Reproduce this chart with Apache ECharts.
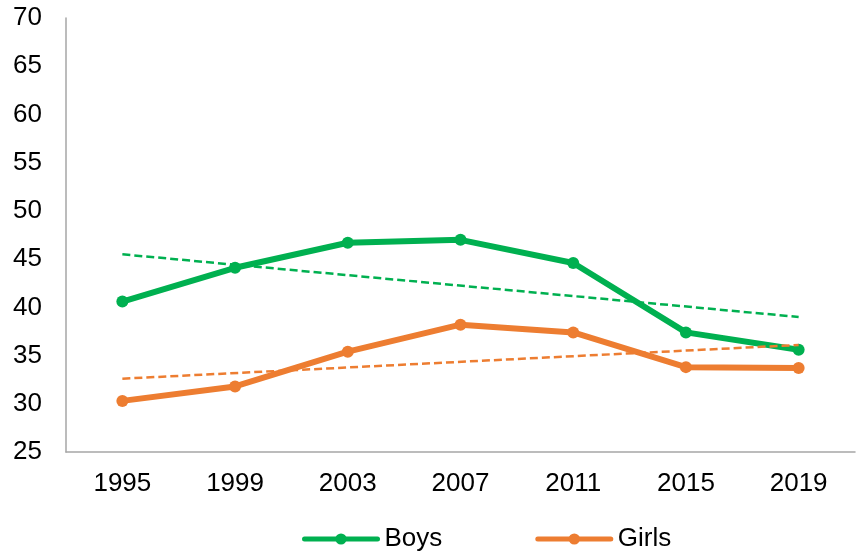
<!DOCTYPE html>
<html>
<head>
<meta charset="utf-8">
<script src="https://cdn.jsdelivr.net/npm/echarts@6/dist/echarts.min.js"></script>
<style>
  html, body { margin: 0; padding: 0; background: #fff; }
  #chart { width: 856px; height: 554px; }
</style>
</head>
<body>
<div id="chart"></div>
<script>
// Survey years on the x axis
const years = ['1995', '1999', '2003', '2007', '2011', '2015', '2019'];

// Percentages per year
const boys = [40.6, 44.1, 46.7, 47.0, 44.6, 37.4, 35.6];
const girls = [30.3, 31.8, 35.4, 38.2, 37.4, 33.8, 33.7];

// Linear trend lines: start (1995) and end (2019) values
const boysTrend = [45.5, 39.0];
const girlsTrend = [32.6, 36.1];

// Value axis range
const yMin = 25, yMax = 70, yStep = 5;

const GREEN = '#00B050';
const ORANGE = '#ED7D31';
const FONT = '"Liberation Sans", Arial, sans-serif';

function trendData(ends) {
  return [[years[0], ends[0]], [years[years.length - 1], ends[1]]];
}

const chart = echarts.init(document.getElementById('chart'), null, { renderer: 'canvas' });

chart.setOption({
  animation: false,
  backgroundColor: '#ffffff',
  grid: { left: 66, right: 1, top: 18, bottom: 102, containLabel: false },
  legend: {
    data: ['Boys', 'Girls'],
    top: 526,
    left: 302,
    padding: 0,
    itemWidth: 73,
    itemHeight: 14,
    itemGap: 93,
    lineStyle: { width: 5, cap: 'round' },
    textStyle: { fontFamily: FONT, fontSize: 26, color: '#000', padding: [0, 0, 0, 2] }
  },
  xAxis: {
    type: 'category',
    data: years,
    boundaryGap: true,
    axisLine: { lineStyle: { color: '#A6A6A6', width: 1.5 } },
    axisTick: { show: false },
    axisLabel: { fontFamily: FONT, fontSize: 26, color: '#000', margin: 19 },
    splitLine: { show: false }
  },
  yAxis: {
    type: 'value',
    min: yMin,
    max: yMax,
    interval: yStep,
    axisLine: { show: true, lineStyle: { color: '#A6A6A6', width: 1.5 } },
    axisTick: { show: false },
    axisLabel: { fontFamily: FONT, fontSize: 26, color: '#000', margin: 24 },
    splitLine: { show: false }
  },
  series: [
    {
      name: 'Boys',
      type: 'line',
      data: boys,
      symbol: 'circle',
      symbolSize: 12,
      lineStyle: { color: GREEN, width: 6 },
      itemStyle: { color: GREEN },
      z: 2
    },
    {
      name: 'Girls',
      type: 'line',
      data: girls,
      symbol: 'circle',
      symbolSize: 12,
      lineStyle: { color: ORANGE, width: 6 },
      itemStyle: { color: ORANGE },
      z: 2
    },
    {
      name: 'Boys trend',
      type: 'line',
      data: trendData(boysTrend),
      symbol: 'none',
      lineStyle: { color: GREEN, width: 2.5, type: [8, 4] },
      z: 3
    },
    {
      name: 'Girls trend',
      type: 'line',
      data: trendData(girlsTrend),
      symbol: 'none',
      lineStyle: { color: ORANGE, width: 2.5, type: [8, 4] },
      z: 3
    }
  ]
});
</script>
</body>
</html>
